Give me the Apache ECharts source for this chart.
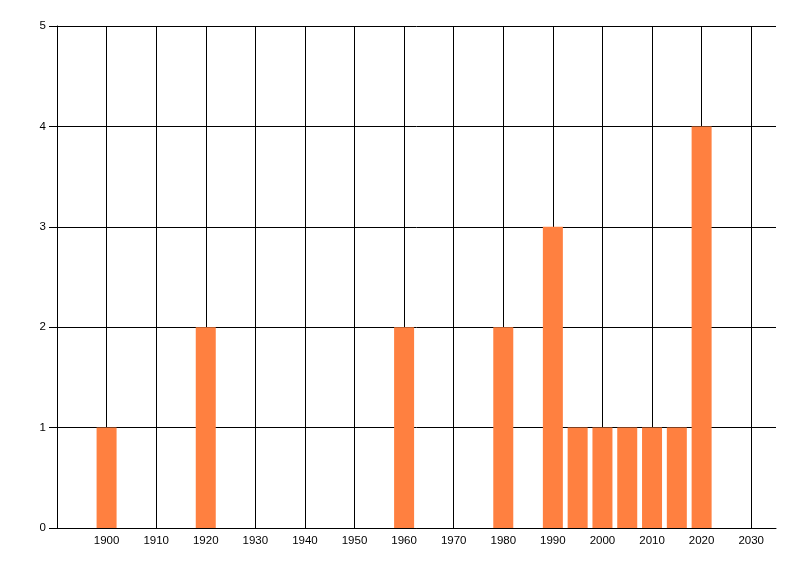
<!DOCTYPE html>
<html>
<head>
<meta charset="utf-8">
<script src="https://cdn.jsdelivr.net/npm/echarts@6/dist/echarts.min.js"></script>
<style>html,body{margin:0;padding:0;background:#fff;}#c{width:800px;height:576px;}</style>
</head>
<body>
<div id="c"></div>
<script>
const years = [1900, 1920, 1960, 1980, 1990, 1995, 2000, 2005, 2010, 2015, 2020];
const counts = [1, 2, 2, 2, 3, 1, 1, 1, 1, 1, 4];
const xMin = 1890, xMax = 2035, xStep = 10;
const yMin = 0, yMax = 5, yStep = 1;

const chart = echarts.init(document.getElementById('c'), null, {renderer: 'canvas'});
const font = 'Liberation Sans, Arial, sans-serif';
chart.setOption({
  animation: false,
  backgroundColor: '#fff',
  grid: {left: 57, right: 24, top: 26, bottom: 48, containLabel: false},
  xAxis: {
    type: 'value', min: xMin, max: xMax, interval: xStep,
    axisLine: {show: true, lineStyle: {color: '#000', width: 1}},
    axisTick: {show: false},
    axisLabel: {color: '#000', fontSize: 11.5, fontFamily: font, margin: 7, showMinLabel: false, showMaxLabel: false,
      formatter: v => String(v)},
    splitLine: {show: true, showMinLine: false, showMaxLine: false, lineStyle: {color: '#000', width: 1}}
  },
  yAxis: {
    type: 'value', min: yMin, max: yMax, interval: yStep,
    axisLine: {show: true, lineStyle: {color: '#000', width: 1}},
    axisTick: {show: true, length: 8, inside: false, lineStyle: {color: '#000'}},
    axisLabel: {color: '#000', fontSize: 11.5, fontFamily: font, margin: 11, formatter: v => String(v)},
    splitLine: {show: true, lineStyle: {color: '#000', width: 1}}
  },
  series: [{
    type: 'bar',
    data: years.map((y, i) => [y, counts[i]]),
    barWidth: 20,
    itemStyle: {color: '#ff8040'}
  }]
});
</script>
</body>
</html>
